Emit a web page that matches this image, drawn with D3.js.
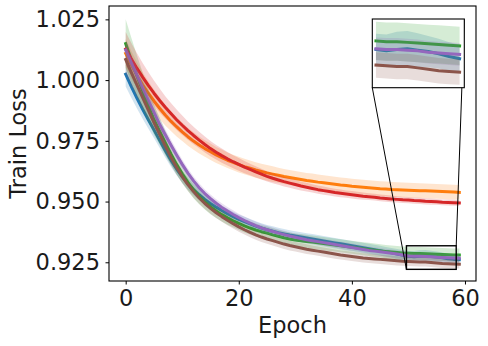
<!DOCTYPE html>
<html><head><meta charset="utf-8">
<script src="https://cdn.jsdelivr.net/npm/d3@7"></script>
<style>
body{margin:0;background:#fff}
svg{display:block}
text{font-family:"DejaVu Sans",sans-serif;fill:#1a1a1a}
</style>
</head><body><svg id="c" width="488" height="346"></svg>
<script>
// ---------------- data ----------------
const epochs = d3.range(0, 60);
const xTicks = [0, 20, 40, 60];
const yTicks = [0.925, 0.950, 0.975, 1.000, 1.025];
const xLabel = "Epoch";
const yLabel = "Train Loss";
const zoomX = [49.65, 58.45];
const zoomY = [0.9221, 0.9318];
const insetEpochs = d3.range(50, 59);

const lossBlue = [1.0024,0.9973,0.9925,0.9880,0.9837,0.9795,0.9752,0.9710,0.9670,0.9634,
0.9602,0.9574,0.9549,0.9528,0.9509,0.9492,0.9477,0.9463,0.9450,0.9438,
0.9427,0.9417,0.9408,0.9399,0.9391,0.9384,0.9378,0.9372,0.9367,0.9362,
0.9358,0.9354,0.9350,0.9346,0.9342,0.9338,0.9334,0.9330,0.9326,0.9322,
0.9318,0.9314,0.9310,0.9306,0.9302,0.9298,0.9293,0.9289,0.9284,0.9279,
0.9275,0.9273,0.9275,0.9276,0.9274,0.9272,0.9269,0.9265,0.9262,0.9261];
const stdBlue = [0.0050,0.0046,0.0042,0.0039,0.0036,0.0033,0.0031,0.0029,0.0027,0.0026,
0.0025,0.0024,0.0023,0.0022,0.0022,0.0021,0.0021,0.0020,0.0020,0.0020,
0.0020,0.0020,0.0020,0.0020,0.0020,0.0020,0.0020,0.0020,0.0020,0.0020,
0.0020,0.0020,0.0020,0.0020,0.0020,0.0020,0.0020,0.0020,0.0020,0.0020,
0.0020,0.0020,0.0020,0.0020,0.0020,0.0020,0.0020,0.0020,0.0021,0.0022,
0.0022,0.0023,0.0025,0.0025,0.0024,0.0022,0.0021,0.0020,0.0020,0.0020];

const lossOrange = [1.0110,1.0063,1.0020,0.9981,0.9946,0.9914,0.9884,0.9856,0.9831,0.9808,
0.9787,0.9767,0.9749,0.9733,0.9718,0.9705,0.9692,0.9681,0.9670,0.9661,
0.9652,0.9644,0.9637,0.9630,0.9624,0.9618,0.9613,0.9608,0.9603,0.9599,
0.9595,0.9591,0.9587,0.9584,0.9580,0.9577,0.9574,0.9571,0.9568,0.9566,
0.9563,0.9561,0.9559,0.9557,0.9555,0.9553,0.9552,0.9550,0.9549,0.9548,
0.9547,0.9546,0.9545,0.9544,0.9543,0.9542,0.9541,0.9540,0.9539,0.9538];
const stdOrange = [0.0060,0.0057,0.0054,0.0051,0.0049,0.0047,0.0045,0.0043,0.0041,0.0040,
0.0038,0.0037,0.0036,0.0035,0.0034,0.0034,0.0033,0.0033,0.0032,0.0032,
0.0032,0.0032,0.0032,0.0032,0.0032,0.0032,0.0032,0.0031,0.0031,0.0031,
0.0031,0.0031,0.0031,0.0031,0.0031,0.0031,0.0031,0.0031,0.0031,0.0031,
0.0031,0.0031,0.0031,0.0031,0.0031,0.0031,0.0031,0.0031,0.0030,0.0030,
0.0030,0.0030,0.0030,0.0030,0.0030,0.0030,0.0030,0.0030,0.0030,0.0030];

const lossGreen = [1.0150,1.0082,1.0017,0.9955,0.9895,0.9838,0.9790,0.9742,0.9696,0.9653,
0.9614,0.9579,0.9548,0.9521,0.9498,0.9478,0.9461,0.9446,0.9433,0.9421,
0.9410,0.9400,0.9391,0.9383,0.9376,0.9370,0.9363,0.9357,0.9351,0.9346,
0.9342,0.9339,0.9336,0.9333,0.9330,0.9327,0.9324,0.9321,0.9318,0.9315,
0.9312,0.9309,0.9306,0.9303,0.9300,0.9297,0.9294,0.9292,0.9290,0.9288,
0.9287,0.9286,0.9286,0.9285,0.9284,0.9283,0.9282,0.9281,0.9280,0.9280];
const stdGreen = [0.0100,0.0092,0.0084,0.0076,0.0069,0.0062,0.0056,0.0051,0.0046,0.0042,
0.0039,0.0036,0.0034,0.0032,0.0031,0.0030,0.0029,0.0028,0.0028,0.0027,
0.0027,0.0027,0.0027,0.0027,0.0027,0.0027,0.0027,0.0027,0.0027,0.0027,
0.0027,0.0027,0.0027,0.0027,0.0027,0.0027,0.0027,0.0027,0.0027,0.0027,
0.0027,0.0027,0.0027,0.0027,0.0027,0.0027,0.0027,0.0027,0.0027,0.0027,
0.0027,0.0027,0.0027,0.0027,0.0027,0.0027,0.0027,0.0027,0.0027,0.0027];

const lossRed = [1.0128,1.0087,1.0048,1.0012,0.9978,0.9946,0.9916,0.9888,0.9862,0.9837,
0.9814,0.9792,0.9772,0.9753,0.9735,0.9718,0.9703,0.9689,0.9676,0.9664,
0.9653,0.9642,0.9632,0.9622,0.9613,0.9604,0.9596,0.9589,0.9582,0.9576,
0.9570,0.9564,0.9559,0.9554,0.9549,0.9545,0.9541,0.9537,0.9534,0.9531,
0.9528,0.9525,0.9522,0.9520,0.9518,0.9515,0.9513,0.9511,0.9509,0.9507,
0.9506,0.9504,0.9503,0.9501,0.9500,0.9499,0.9497,0.9496,0.9495,0.9494];
const stdRed = [0.0070,0.0066,0.0062,0.0058,0.0055,0.0052,0.0049,0.0046,0.0044,0.0042,
0.0040,0.0038,0.0036,0.0034,0.0033,0.0031,0.0030,0.0029,0.0028,0.0027,
0.0026,0.0025,0.0024,0.0023,0.0022,0.0021,0.0021,0.0020,0.0020,0.0019,
0.0019,0.0018,0.0018,0.0017,0.0017,0.0017,0.0016,0.0016,0.0016,0.0015,
0.0015,0.0015,0.0015,0.0014,0.0014,0.0014,0.0014,0.0014,0.0013,0.0013,
0.0013,0.0013,0.0013,0.0013,0.0013,0.0012,0.0012,0.0012,0.0012,0.0012];

const lossPurple = [1.0124,1.0071,1.0019,0.9968,0.9918,0.9868,0.9818,0.9775,0.9733,0.9692,
0.9653,0.9617,0.9585,0.9557,0.9533,0.9512,0.9493,0.9476,0.9461,0.9447,
0.9434,0.9422,0.9411,0.9401,0.9392,0.9384,0.9377,0.9370,0.9364,0.9358,
0.9353,0.9348,0.9343,0.9339,0.9335,0.9331,0.9327,0.9323,0.9319,0.9315,
0.9311,0.9307,0.9303,0.9299,0.9296,0.9293,0.9290,0.9287,0.9284,0.9280,
0.9276,0.9275,0.9275,0.9274,0.9273,0.9271,0.9270,0.9269,0.9268,0.9267];
const stdPurple = [0.0040,0.0037,0.0034,0.0031,0.0029,0.0027,0.0025,0.0023,0.0022,0.0021,
0.0020,0.0019,0.0018,0.0018,0.0017,0.0017,0.0017,0.0017,0.0017,0.0017,
0.0016,0.0016,0.0016,0.0016,0.0016,0.0016,0.0016,0.0016,0.0016,0.0016,
0.0016,0.0016,0.0016,0.0016,0.0016,0.0016,0.0016,0.0016,0.0016,0.0016,
0.0016,0.0016,0.0016,0.0016,0.0016,0.0016,0.0016,0.0016,0.0016,0.0016,
0.0016,0.0016,0.0016,0.0016,0.0016,0.0016,0.0016,0.0016,0.0016,0.0016];

const lossBrown = [1.0085,1.0031,0.9979,0.9928,0.9876,0.9825,0.9777,0.9729,0.9683,0.9641,
0.9603,0.9570,0.9541,0.9515,0.9492,0.9472,0.9454,0.9438,0.9423,0.9409,
0.9396,0.9384,0.9373,0.9363,0.9354,0.9346,0.9339,0.9332,0.9325,0.9319,
0.9314,0.9309,0.9304,0.9300,0.9296,0.9292,0.9288,0.9284,0.9280,0.9277,
0.9274,0.9271,0.9268,0.9266,0.9264,0.9262,0.9260,0.9258,0.9256,0.9254,
0.9253,0.9252,0.9251,0.9251,0.9249,0.9247,0.9245,0.9244,0.9243,0.9242];
const stdBrown = [0.0060,0.0055,0.0050,0.0046,0.0042,0.0039,0.0036,0.0033,0.0031,0.0029,
0.0027,0.0026,0.0025,0.0024,0.0023,0.0022,0.0022,0.0021,0.0021,0.0020,
0.0020,0.0020,0.0020,0.0020,0.0020,0.0020,0.0020,0.0020,0.0020,0.0020,
0.0020,0.0020,0.0020,0.0019,0.0019,0.0019,0.0019,0.0019,0.0019,0.0019,
0.0019,0.0019,0.0019,0.0019,0.0019,0.0019,0.0019,0.0019,0.0019,0.0018,
0.0018,0.0018,0.0018,0.0018,0.0018,0.0018,0.0018,0.0018,0.0018,0.0018];

const series = [
  {color:"#1f77b4", mean:lossBlue,   std:stdBlue},
  {color:"#ff7f0e", mean:lossOrange, std:stdOrange},
  {color:"#2ca02c", mean:lossGreen,  std:stdGreen},
  {color:"#d62728", mean:lossRed,    std:stdRed},
  {color:"#9467bd", mean:lossPurple, std:stdPurple},
  {color:"#8c564b", mean:lossBrown,  std:stdBrown}
];

// ---------------- layout ----------------
const plot = {left:109, right:476, top:6, bottom:281};
const insetBox = {left:372.3, right:464.3, top:19, bottom:87.7};
const FS = 22.5;

const svg = d3.select("#c");
const x = d3.scaleLinear().domain([-2.95, 61.95]).range([plot.left, plot.right]);
const y = d3.scaleLinear().domain([0.9173, 1.0305]).range([plot.bottom, plot.top]);

const defs = svg.append("defs");
defs.append("clipPath").attr("id","clipMain")
  .append("rect").attr("x",plot.left).attr("y",plot.top)
  .attr("width",plot.right-plot.left).attr("height",plot.bottom-plot.top);
defs.append("clipPath").attr("id","clipInset")
  .append("rect").attr("x",insetBox.left).attr("y",insetBox.top)
  .attr("width",insetBox.right-insetBox.left).attr("height",insetBox.bottom-insetBox.top);

function drawSeries(g, xs, ys, idx, lw){
  series.forEach(s=>{
    const pts = idx.map(i=>({e:epochs[i], m:s.mean[i], sd:s.std[i]}));
    g.append("path").datum(pts)
      .attr("d", d3.line().x(d=>xs(d.e)).y(d=>ys(d.m)))
      .attr("fill","none").attr("stroke",s.color).attr("stroke-width",lw)
      .attr("stroke-linecap","square").attr("stroke-linejoin","round");
    g.append("path").datum(pts)
      .attr("d", d3.area().x(d=>xs(d.e)).y0(d=>ys(d.m-d.sd)).y1(d=>ys(d.m+d.sd)))
      .attr("fill",s.color).attr("fill-opacity",0.2).attr("stroke","none");
  });
}

// main plot
const gMain = svg.append("g").attr("clip-path","url(#clipMain)");
drawSeries(gMain, x, y, d3.range(0, epochs.length), 3);

// axes
const fmtY = d3.format(".3f");
const gx = svg.append("g").attr("transform",`translate(0,${plot.bottom})`)
  .call(d3.axisBottom(x).tickValues(xTicks).tickSize(3.5).tickPadding(6).tickFormat(d3.format("d")));
const gy = svg.append("g").attr("transform",`translate(${plot.left},0)`)
  .call(d3.axisLeft(y).tickValues(yTicks).tickSize(3.5).tickPadding(5.5).tickFormat(fmtY));
[gx, gy].forEach(g=>{
  g.select(".domain").remove();
  g.selectAll(".tick line").attr("stroke","#000").attr("stroke-width",1);
  g.selectAll(".tick text").attr("font-size",FS).attr("font-family","DejaVu Sans").attr("fill","#1a1a1a");
});

// frame
svg.append("rect").attr("x",plot.left).attr("y",plot.top)
  .attr("width",plot.right-plot.left).attr("height",plot.bottom-plot.top)
  .attr("fill","none").attr("stroke","#000").attr("stroke-width",1.1);

// axis labels
svg.append("text").attr("x",(plot.left+plot.right)/2).attr("y",333)
  .attr("text-anchor","middle").attr("font-size",FS).text(xLabel);
svg.append("text").attr("transform",`translate(26,${(plot.top+plot.bottom)/2}) rotate(-90)`)
  .attr("text-anchor","middle").attr("font-size",FS).text(yLabel);

// zoom rectangle on main axes
svg.append("rect").attr("x",x(zoomX[0])).attr("y",y(zoomY[1]))
  .attr("width",x(zoomX[1])-x(zoomX[0])).attr("height",y(zoomY[0])-y(zoomY[1]))
  .attr("fill","none").attr("stroke","#000").attr("stroke-width",1.4);

// connectors (lower-left and upper-right corners)
svg.append("line").attr("x1",x(zoomX[0])).attr("y1",y(zoomY[0]))
  .attr("x2",insetBox.left).attr("y2",insetBox.bottom).attr("stroke","#000").attr("stroke-width",1);
svg.append("line").attr("x1",x(zoomX[1])).attr("y1",y(zoomY[1]))
  .attr("x2",insetBox.right).attr("y2",insetBox.top).attr("stroke","#000").attr("stroke-width",1);

// inset
const xi = d3.scaleLinear().domain(zoomX).range([insetBox.left, insetBox.right]);
const yi = d3.scaleLinear().domain(zoomY).range([insetBox.bottom, insetBox.top]);
svg.append("rect").attr("x",insetBox.left).attr("y",insetBox.top)
  .attr("width",insetBox.right-insetBox.left).attr("height",insetBox.bottom-insetBox.top)
  .attr("fill","#fff");
const gIn = svg.append("g").attr("clip-path","url(#clipInset)");
drawSeries(gIn, xi, yi, insetEpochs, 3);
svg.append("rect").attr("x",insetBox.left).attr("y",insetBox.top)
  .attr("width",insetBox.right-insetBox.left).attr("height",insetBox.bottom-insetBox.top)
  .attr("fill","none").attr("stroke","#000").attr("stroke-width",1.1);
</script>
</body></html>
